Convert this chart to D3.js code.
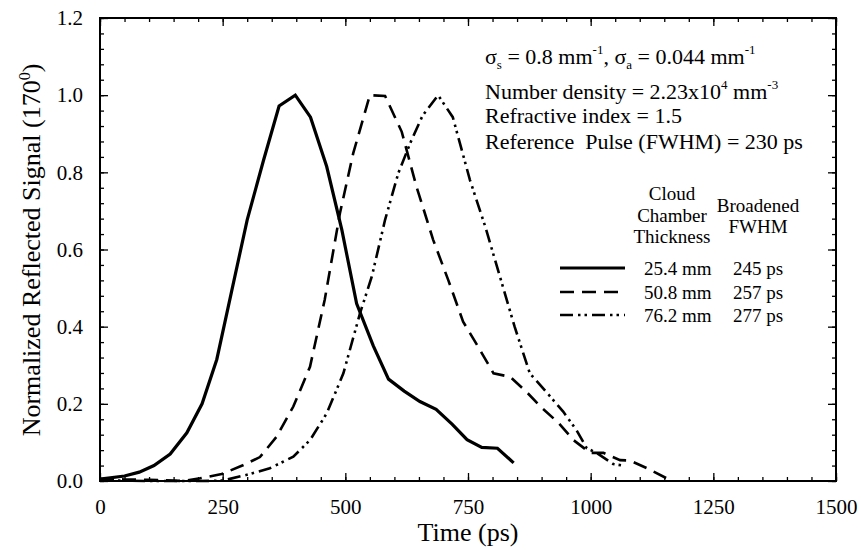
<!DOCTYPE html>
<html><head><meta charset="utf-8">
<script src="https://cdn.jsdelivr.net/npm/d3@7"></script>
<style>body{margin:0;background:#fff}svg{display:block}svg text{fill:#000}</style>
</head><body><svg id="c" width="861" height="550"></svg>
<script>
const solidT = [0,50,80,110,143,177,208,238,268,300,333,365,398,429,462,493,523,557,588,620,652,685,718,748,778,810,843];
const solidV = [0.005,0.013,0.023,0.04,0.07,0.125,0.2,0.315,0.49,0.677,0.83,0.972,1.0,0.943,0.815,0.65,0.46,0.35,0.264,0.233,0.206,0.186,0.147,0.107,0.087,0.085,0.047];
const dashT = [0,50,100,170,204,248,290,326,360,394,428,458,489,516,550,581,615,645,679,710,740,772,802,836,870,900,935,965,999,1026,1060,1080,1115,1155];
const dashV = [0.005,0.004,0.003,0.0,0.007,0.018,0.04,0.062,0.115,0.193,0.296,0.47,0.694,0.849,1.0,0.998,0.905,0.763,0.625,0.52,0.413,0.345,0.279,0.27,0.23,0.19,0.15,0.106,0.073,0.073,0.054,0.053,0.033,0.007];
const ddT = [0,100,200,250,299,346,394,428,462,496,530,554,581,608,632,657,689,719,754,785,815,845,876,910,944,971,992,1012,1046,1070];
const ddV = [0.002,0.0,0.0,0.001,0.016,0.033,0.063,0.106,0.175,0.279,0.435,0.53,0.677,0.798,0.875,0.946,1.0,0.943,0.78,0.66,0.53,0.4,0.279,0.23,0.18,0.132,0.085,0.073,0.044,0.039];
const xTicks = [0,250,500,750,1000,1250,1500];
const yTicks = [0.0,0.2,0.4,0.6,0.8,1.0,1.2];
const legendThick = ["25.4 mm","50.8 mm","76.2 mm"];
const legendFwhm = ["245 ps","257 ps","277 ps"];

const FONT = "'Times New Roman', Times, Tinos, 'Liberation Serif', 'Nimbus Roman', 'Nimbus Roman No9 L', FreeSerif, 'Noto Serif', 'DejaVu Serif', serif";
const svg = d3.select("#c").style("font-family",FONT);
const L=100,R=836,T=18,B=481;
const x = d3.scaleLinear().domain([0,1500]).range([L,R]);
const y = d3.scaleLinear().domain([0,1.2]).range([B,T]);

const xMinor = d3.range(0,1501,50), yMinor = d3.range(0,1.2001,0.04);
function ax(g, axis){ g.call(axis); g.attr("font-family",null); g.select(".domain").remove(); g.selectAll("line").attr("stroke","#000").attr("stroke-width",1.3); }
// bottom
svg.append("g").attr("transform",`translate(0,${B})`).call(g=>ax(g,d3.axisBottom(x).tickValues(xMinor).tickSize(-4).tickFormat("")));
svg.append("g").attr("transform",`translate(0,${B})`).call(g=>ax(g,d3.axisBottom(x).tickValues(xTicks).tickSize(-8).tickPadding(18).tickFormat(d3.format("d"))))
  .selectAll("text").attr("font-size",21);
// top
svg.append("g").attr("transform",`translate(0,${T})`).call(g=>ax(g,d3.axisTop(x).tickValues(xMinor).tickSize(-4).tickFormat("")));
svg.append("g").attr("transform",`translate(0,${T})`).call(g=>ax(g,d3.axisTop(x).tickValues(xTicks).tickSize(-8).tickFormat("")));
// left
svg.append("g").attr("transform",`translate(${L},0)`).call(g=>ax(g,d3.axisLeft(y).tickValues(yMinor).tickSize(-4).tickFormat("")));
svg.append("g").attr("transform",`translate(${L},0)`).call(g=>ax(g,d3.axisLeft(y).tickValues(yTicks).tickSize(-8).tickPadding(17).tickFormat(d3.format(".1f"))))
  .selectAll("text").attr("font-size",21);
// right
svg.append("g").attr("transform",`translate(${R},0)`).call(g=>ax(g,d3.axisRight(y).tickValues(yMinor).tickSize(-4).tickFormat("")));
svg.append("g").attr("transform",`translate(${R},0)`).call(g=>ax(g,d3.axisRight(y).tickValues(yTicks).tickSize(-8).tickFormat("")));

svg.append("rect").attr("x",L).attr("y",T).attr("width",R-L).attr("height",B-T).attr("fill","none").attr("stroke","#000").attr("stroke-width",2);

const line = d3.line().x(d=>x(d[0])).y(d=>y(d[1]));
const styles = [
  {w:3.2, dash:null},
  {w:2.6, dash:"14,8"},
  {w:2.6, dash:"13,5,2.5,4,2.5,5"}
];
const series = [d3.zip(solidT,solidV), d3.zip(dashT,dashV), d3.zip(ddT,ddV)];
series.forEach((s,i)=>{
  svg.append("path").datum(s).attr("d",line).attr("fill","none").attr("stroke","#000")
    .attr("stroke-width",styles[i].w).attr("stroke-dasharray",styles[i].dash).attr("stroke-linejoin","miter");
});

// axis titles
svg.append("text").attr("x",(L+R)/2).attr("y",541).attr("text-anchor","middle").attr("font-size",26).text("Time (ps)");
const yl = svg.append("text").attr("transform","translate(40,250) rotate(-90)").attr("text-anchor","middle").attr("font-size",26);
yl.append("tspan").text("Normalized Reflected Signal (170");
yl.append("tspan").attr("dy",-10).attr("font-size",16).text("0");
yl.append("tspan").attr("dy",10).text(")");

// annotations
const fs=22;
const a1 = svg.append("text").attr("x",485).attr("y",64).attr("font-size",fs);
a1.append("tspan").text("σ");
a1.append("tspan").attr("dy",5).attr("font-size",13).text("s");
a1.append("tspan").attr("dy",-5).text(" = 0.8 mm");
a1.append("tspan").attr("dy",-10).attr("font-size",13).text("-1");
a1.append("tspan").attr("dy",10).text(", σ");
a1.append("tspan").attr("dy",5).attr("font-size",13).text("a");
a1.append("tspan").attr("dy",-5).text(" = 0.044 mm");
a1.append("tspan").attr("dy",-10).attr("font-size",13).text("-1");
const a2 = svg.append("text").attr("x",485).attr("y",99).attr("font-size",fs);
a2.append("tspan").text("Number density = 2.23x10");
a2.append("tspan").attr("dy",-10).attr("font-size",13).text("4");
a2.append("tspan").attr("dy",10).text(" mm");
a2.append("tspan").attr("dy",-10).attr("font-size",13).text("-3");
svg.append("text").attr("x",485).attr("y",123).attr("font-size",fs).text("Refractive index = 1.5");
svg.append("text").attr("x",485).attr("y",149).attr("font-size",fs).style("white-space","pre").text("Reference  Pulse (FWHM) = 230 ps");

// legend
const lf=19;
[["Cloud",200],["Chamber",222],["Thickness",243]].forEach(([t,yy])=>svg.append("text").attr("x",672).attr("y",yy).attr("text-anchor","middle").attr("font-size",lf).text(t));
[["Broadened",212],["FWHM",233]].forEach(([t,yy])=>svg.append("text").attr("x",758).attr("y",yy).attr("text-anchor","middle").attr("font-size",lf).text(t));
const rowsY=[268,292,315];
rowsY.forEach((ry,i)=>{
  svg.append("line").attr("x1",560).attr("x2",625).attr("y1",ry).attr("y2",ry).attr("stroke","#000")
    .attr("stroke-width",styles[i].w).attr("stroke-dasharray",styles[i].dash);
  svg.append("text").attr("x",644).attr("y",ry+7).attr("font-size",lf).text(legendThick[i]);
  svg.append("text").attr("x",733).attr("y",ry+7).attr("font-size",lf).text(legendFwhm[i]);
});
</script></body></html>
